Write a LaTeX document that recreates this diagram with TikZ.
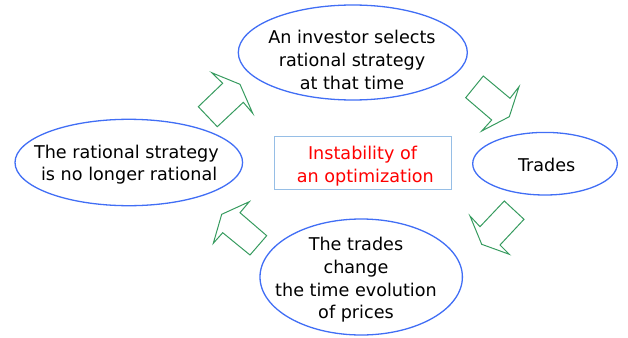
\documentclass[tikz,border=0pt]{standalone}
\usepackage{fontspec}
\setmainfont{DejaVu Sans}
\usetikzlibrary{shapes.geometric}
\definecolor{bubblue}{RGB}{65,110,245}
\definecolor{boxblue}{RGB}{150,190,230}
\definecolor{arrgreen}{RGB}{55,155,95}
\begin{document}
\begin{tikzpicture}[x=1pt,y=-1pt,
  bub/.style={draw=bubblue,line width=1.3pt,ellipse,inner sep=0pt},
  txt/.style={align=center,font=\fontsize{17.6}{22.7}\selectfont,text=black,inner sep=0pt},
  blk/.style={draw=arrgreen,line width=1pt,line join=miter}]
\useasboundingbox (0,0) rectangle (628,337);
% ellipses
\node[bub,minimum width=229pt,minimum height=95pt] (inv) at (352.8,52.5) {};
\node[bub,minimum width=227.6pt,minimum height=86.4pt] (irr) at (128.8,162.5) {};
\node[bub,minimum width=144.6pt,minimum height=62.6pt] (trd) at (545,163.7) {};
\node[bub,minimum width=202.4pt,minimum height=116pt] (chg) at (361.2,277) {};
% texts
\node[txt] (invt) at (352,60) {An investor selects\\rational strategy\\at that time};
\node[txt] (irrt) at (126.4,164.7) {The rational strategy\\\ is no longer rational};
\node[txt,anchor=base] (trdt) at (546.7,171) {Trades};
\node[txt] (chgt) at (356,280) {The trades\\change\\the time evolution\\of prices};
% center box
\node[draw=boxblue,line width=1pt,minimum width=177pt,minimum height=53pt,inner sep=0pt] (box) at (362.5,162.6) {};
\node[txt,text=red] (boxt) at (362.5,166) {Instability of\\\ an optimization};
% block arrows
\draw[blk] (240,84.3) -- (252.7,113.3) -- (243.3,102.3) -- (217.3,126.7) -- (198.3,106.7) -- (222.7,83.3) -- (211.7,72.7) -- cycle;
\draw[blk] (509.3,116.7) -- (481.7,131) -- (491.7,120) -- (465.7,97.7) -- (483.3,76) -- (510,98.3) -- (519,86.7) -- cycle;
\draw[blk] (481.7,244.3) -- (470,216) -- (480,226.7) -- (504.3,201) -- (524,219.3) -- (500,245) -- (509.3,254.3) -- cycle;
\draw[blk] (221.7,214.3) -- (249.3,201.7) -- (240,212.7) -- (266.7,235.7) -- (250,255) -- (222.7,232.7) -- (213.3,243.3) -- cycle;
\end{tikzpicture}
\end{document}
